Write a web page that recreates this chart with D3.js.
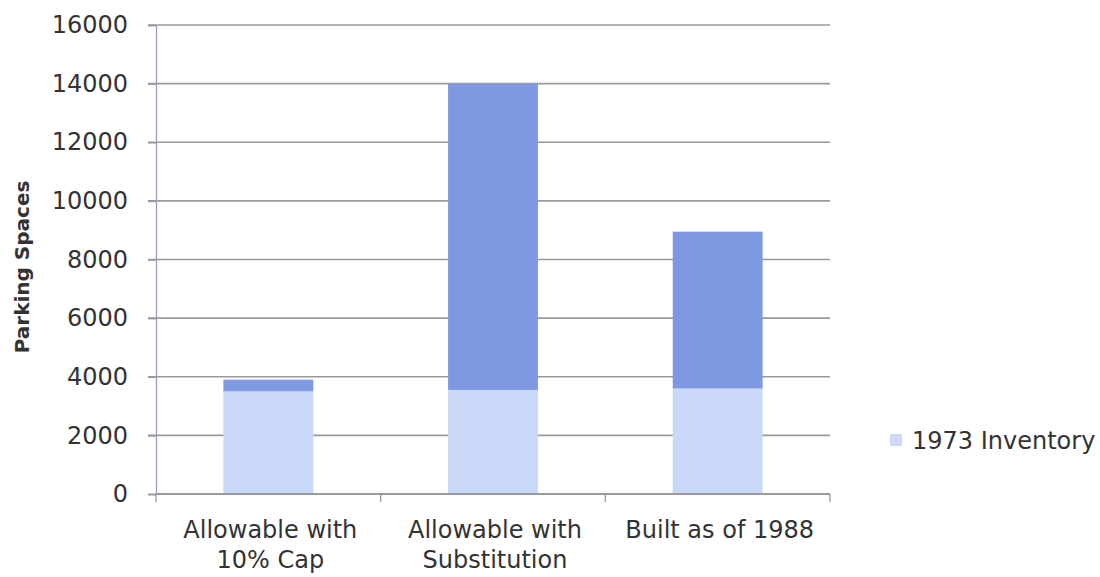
<!DOCTYPE html>
<html>
<head>
<meta charset="utf-8">
<script src="https://cdn.jsdelivr.net/npm/d3@7"></script>
<style>
  html, body { margin: 0; padding: 0; background: #fff; }
  svg text { font-family: "DejaVu Sans", sans-serif; fill: #333; }
</style>
</head>
<body>
<svg id="chart" width="1100" height="577"></svg>
<script>
const categories = [["Allowable with", "10% Cap"], ["Allowable with", "Substitution"], ["Built as of 1988"]];
const inventory1973 = [3500, 3550, 3600];
const additional = [400, 10450, 5350];
const yTicks = [0, 2000, 4000, 6000, 8000, 10000, 12000, 14000, 16000];
const seriesNames = ["1973 Inventory", "Additional"];

const svg = d3.select("#chart");
const plotLeft = 156, plotRight = 830, plotTop = 25, plotBottom = 494;

const x = d3.scaleBand().domain(d3.range(categories.length)).range([plotLeft, plotRight]).paddingInner(0.6).paddingOuter(0.3);
const y = d3.scaleLinear().domain([0, 16000]).range([plotBottom, plotTop]);

// gridlines
svg.append("g").selectAll("line").data(yTicks.filter(d => d > 0)).join("line")
  .attr("x1", plotLeft - 8).attr("x2", plotRight)
  .attr("y1", d => y(d)).attr("y2", d => y(d))
  .attr("stroke", "#9a9a9a").attr("stroke-width", 1.6);

// bars
const rows = categories.map((c, i) => ({ i, inv: inventory1973[i], add: additional[i] }));
svg.append("g").selectAll("rect").data(rows).join("rect")
  .attr("x", d => x(d.i)).attr("width", x.bandwidth())
  .attr("y", d => y(d.inv)).attr("height", d => y(0) - y(d.inv))
  .attr("fill", "#c9d8f6");
svg.append("g").selectAll("rect").data(rows).join("rect")
  .attr("x", d => x(d.i)).attr("width", x.bandwidth())
  .attr("y", d => y(d.inv + d.add)).attr("height", d => y(d.inv) - y(d.inv + d.add))
  .attr("fill", "#7e98e2");

// y axis
const yAxis = d3.axisLeft(y).tickValues(yTicks).tickSize(8).tickPadding(20).tickFormat(d3.format("d"));
const ga = svg.append("g").attr("transform", `translate(${plotLeft},0)`).call(yAxis);
ga.select(".domain").attr("stroke", "#9a9fc0").attr("stroke-width", 1.3);
ga.selectAll(".tick line").attr("stroke", "#9a9a9a").attr("stroke-width", 1.6);
ga.selectAll(".tick text").attr("font-size", 24).attr("fill", "#333").attr("font-family", "'DejaVu Sans', sans-serif");

// x axis
svg.append("line").attr("x1", plotLeft).attr("x2", plotRight).attr("y1", plotBottom).attr("y2", plotBottom)
  .attr("stroke", "#9a9a9a").attr("stroke-width", 1.8);
const bounds = [plotLeft, ...d3.range(1, categories.length).map(i => plotLeft + (plotRight - plotLeft) * i / categories.length), plotRight];
svg.append("g").selectAll("line").data(bounds).join("line")
  .attr("x1", d => d).attr("x2", d => d).attr("y1", plotBottom).attr("y2", plotBottom + 8)
  .attr("stroke", "#9a9a9a").attr("stroke-width", 1.3);

const catCenter = i => (bounds[i] + bounds[i + 1]) / 2;
const labels = svg.append("g").selectAll("text").data(categories).join("text")
  .attr("text-anchor", "middle").attr("font-size", 24)
  .attr("transform", (d, i) => `translate(${catCenter(i) + 2},538)`);
labels.selectAll("tspan").data(d => d).join("tspan")
  .attr("x", 0).attr("dy", (d, j) => j === 0 ? 0 : 30).text(d => d);

// y title
svg.append("text").attr("transform", "translate(29,267) rotate(-90)")
  .attr("text-anchor", "middle").attr("font-size", 20).attr("font-weight", "bold")
  .text("Parking Spaces");

// legend
const lg = svg.append("g").attr("transform", "translate(890,434)");
lg.append("rect").attr("width", 12).attr("height", 12).attr("fill", "#c9d8f6");
lg.append("text").attr("x", 22).attr("y", 15).attr("font-size", 24).text(seriesNames[0]);
</script>
</body>
</html>
